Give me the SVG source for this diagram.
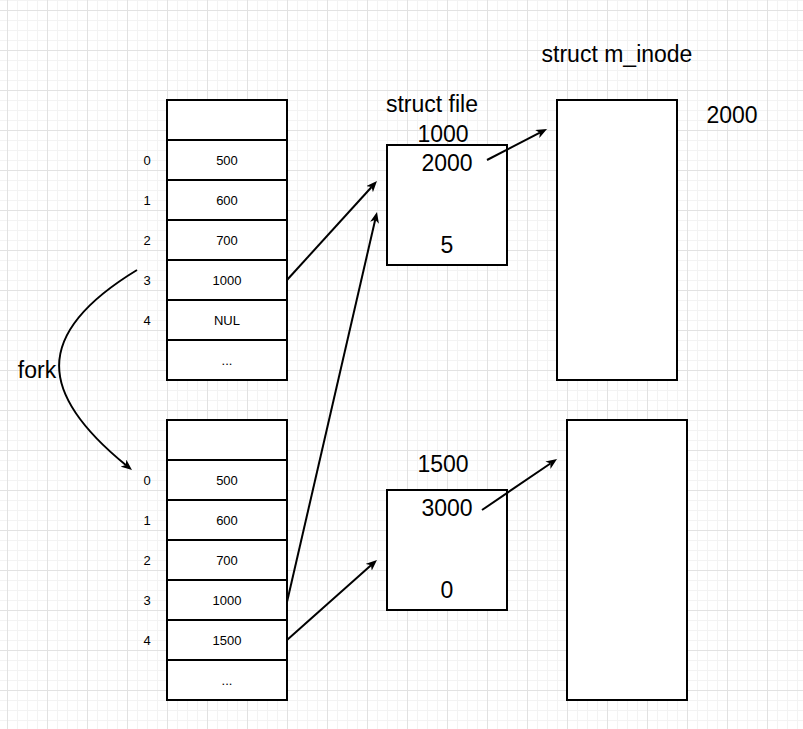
<svg xmlns="http://www.w3.org/2000/svg" width="803" height="729" viewBox="0 0 803 729">
<defs>
<pattern id="grid" x="7" y="10" width="40" height="40" patternUnits="userSpaceOnUse">
<path d="M10.5,0V40M20.5,0V40M30.5,0V40M0,10.5H40M0,20.5H40M0,30.5H40" stroke="#f3f3f3" stroke-width="1" fill="none"/>
<path d="M0.5,0V40M0,0.5H40" stroke="#e2e2e2" stroke-width="1" fill="none"/>
</pattern>
<marker id="arr" viewBox="0 0 11 9" refX="3" refY="4.5" markerWidth="11" markerHeight="9" markerUnits="userSpaceOnUse" orient="auto">
<path d="M0,0 L11,4.5 L0,9 L3,4.5 z" fill="#000"/>
</marker>
<style>
.box{fill:#fff;stroke:#000;stroke-width:2}
.s{font-family:"Liberation Sans",Arial,Helvetica,sans-serif;font-size:13px;fill:#000;text-anchor:middle}
.b{font-family:"Liberation Sans",Arial,Helvetica,sans-serif;font-size:23px;fill:#000;text-anchor:middle}
.c{fill:none;stroke:#000;stroke-width:2}
</style>
</defs>
<rect width="803" height="729" fill="#fff"/>
<rect width="803" height="729" fill="url(#grid)"/>

<g id="fdtable1">
<rect class="box" x="167" y="100" width="120" height="40"/>
<rect class="box" x="167" y="140" width="120" height="40"/>
<rect class="box" x="167" y="180" width="120" height="40"/>
<rect class="box" x="167" y="220" width="120" height="40"/>
<rect class="box" x="167" y="260" width="120" height="40"/>
<rect class="box" x="167" y="300" width="120" height="40"/>
<rect class="box" x="167" y="340" width="120" height="40"/>
<text class="s" x="227" y="165">500</text>
<text class="s" x="227" y="205">600</text>
<text class="s" x="227" y="245">700</text>
<text class="s" x="227" y="285">1000</text>
<text class="s" x="227" y="325">NUL</text>
<text class="s" x="227" y="365">...</text>
<text class="s" x="147" y="165">0</text>
<text class="s" x="147" y="205">1</text>
<text class="s" x="147" y="245">2</text>
<text class="s" x="147" y="285">3</text>
<text class="s" x="147" y="325">4</text>
</g>

<g id="fdtable2">
<rect class="box" x="167" y="420" width="120" height="40"/>
<rect class="box" x="167" y="460" width="120" height="40"/>
<rect class="box" x="167" y="500" width="120" height="40"/>
<rect class="box" x="167" y="540" width="120" height="40"/>
<rect class="box" x="167" y="580" width="120" height="40"/>
<rect class="box" x="167" y="620" width="120" height="40"/>
<rect class="box" x="167" y="660" width="120" height="40"/>
<text class="s" x="227" y="485">500</text>
<text class="s" x="227" y="525">600</text>
<text class="s" x="227" y="565">700</text>
<text class="s" x="227" y="605">1000</text>
<text class="s" x="227" y="645">1500</text>
<text class="s" x="227" y="685">...</text>
<text class="s" x="147" y="485">0</text>
<text class="s" x="147" y="525">1</text>
<text class="s" x="147" y="565">2</text>
<text class="s" x="147" y="605">3</text>
<text class="s" x="147" y="645">4</text>
</g>

<g id="file1">
<text class="b" x="432" y="112">struct file</text>
<text class="b" x="443" y="142">1000</text>
<rect class="box" x="387" y="145" width="120" height="120"/>
<text class="b" x="447" y="171">2000</text>
<text class="b" x="447" y="253">5</text>
</g>

<g id="file2">
<text class="b" x="443" y="472">1500</text>
<rect class="box" x="387" y="490" width="120" height="120"/>
<text class="b" x="447" y="516">3000</text>
<text class="b" x="447" y="598">0</text>
</g>

<g id="inode1">
<text class="b" x="617" y="62">struct m_inode</text>
<text class="b" x="732" y="123">2000</text>
<rect class="box" x="557" y="100" width="120" height="280"/>
</g>

<g id="inode2">
<rect class="box" x="567" y="420" width="120" height="280"/>
</g>

<g id="fork-label">
<text class="b" x="37" y="378">fork</text>
</g>

<g id="connectors">
<path class="c" d="M287,280 L371.6,187" marker-end="url(#arr)"/>
<path class="c" d="M287,602 L375.2,219.8" marker-end="url(#arr)"/>
<path class="c" d="M287,640 L371,565.3" marker-end="url(#arr)"/>
<path class="c" d="M487,160 L539.9,132.7" marker-end="url(#arr)"/>
<path class="c" d="M482,510 L550.4,463.5" marker-end="url(#arr)"/>
<path class="c" d="M137,270 C30,335 40,395 125.8,465" marker-end="url(#arr)"/>
</g>
</svg>
